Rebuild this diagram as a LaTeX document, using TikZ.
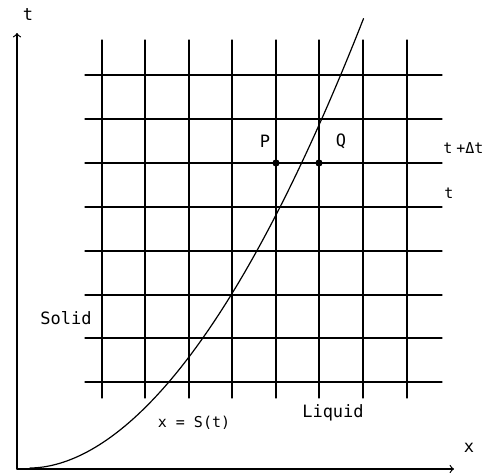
\documentclass[tikz,border=0pt]{standalone}
\usepackage{fontspec}
\setmonofont{DejaVu Sans Mono}
\begin{document}
\begin{tikzpicture}[x=0.5pt,y=-0.5pt,line cap=round,line join=round,
  lbl/.style={font=\ttfamily\fontsize{8.5}{10}\selectfont,inner sep=0pt},
  smalllbl/.style={font=\ttfamily\fontsize{7.5}{9}\selectfont,inner sep=0pt}]
  \useasboundingbox (0,0) rectangle (495,473);
  % 网格
  \foreach \gx in {102,145,189,232,276,319,363,407} {
    \draw[line width=0.55pt] (\gx,40) -- (\gx,398);
  }
  \foreach \gy in {75,119,163,207,251,295,338,382} {
    \draw[line width=0.55pt] (85,\gy) -- (442,\gy);
  }
  % 坐标轴
  \coordinate (O) at (17,469);
  \coordinate (tend) at (17,33);
  \coordinate (xend) at (454,469);
  \draw[line width=0.6pt,->] (O) -- (tend);
  \draw[line width=0.6pt,->] (O) -- (xend);
  \node[lbl] (tlabel) at (28,15) {t};
  \node[lbl] (xlabel) at (469,448) {x};
  % 界面 x = S(t)
  \draw[line width=0.6pt] plot[domain=0:21.2,samples=80,variable=\u]
    ({30+13.1*pow(\u+0.0001,1.06)},{468-\u*\u});
  % P, Q 两点
  \coordinate (P) at (276,163);
  \coordinate (Q) at (319,163);
  \fill (P) circle (1.8pt);
  \fill (Q) circle (1.8pt);
  \node[lbl] (Plabel) at (265,141) {P};
  \node[lbl] (Qlabel) at (341,141) {Q};
  \node[smalllbl,anchor=west] (tdt) at (443,148) {t\hspace{2pt}+Δt};
  \node[smalllbl,anchor=west] (tnow) at (444,193) {t};
  \node[lbl] (solid) at (66,318) {Solid};
  \node[lbl] (liquid) at (333,413) {Liquid};
  \node[smalllbl] (front) at (194,423) {x = S(t)};
\end{tikzpicture}
\end{document}
